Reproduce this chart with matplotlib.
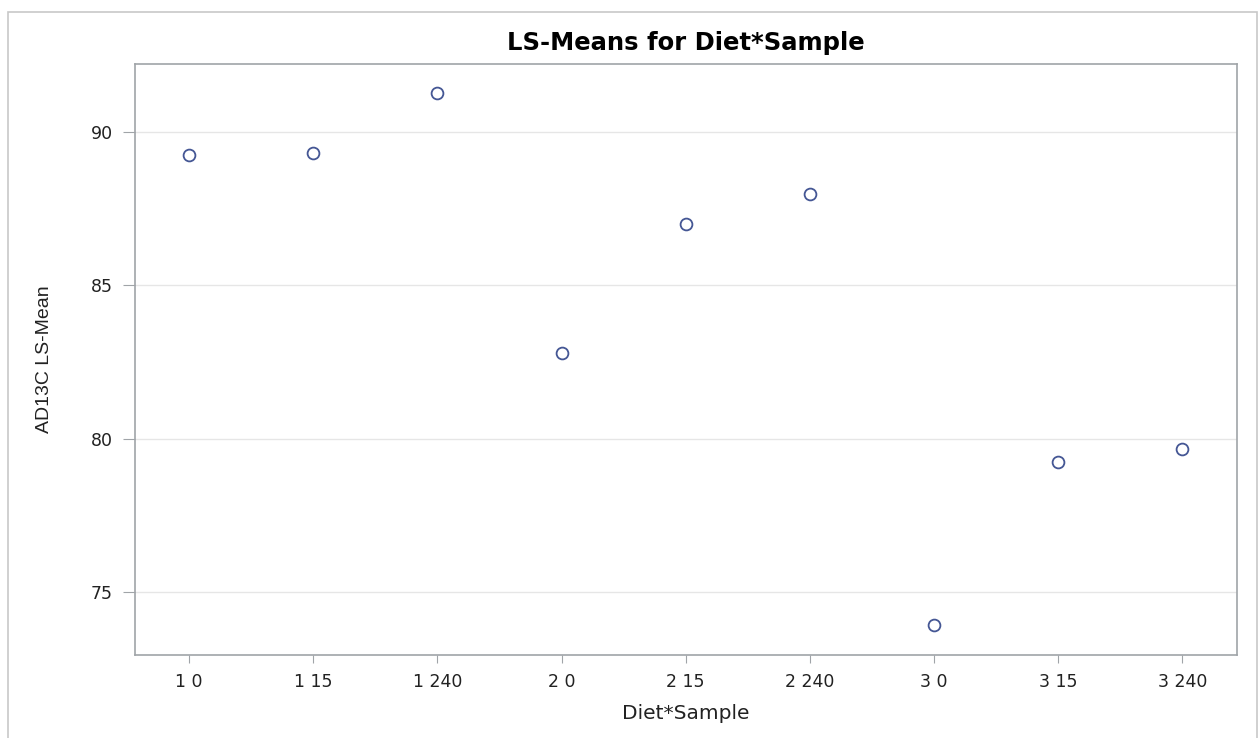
import matplotlib
matplotlib.use("Agg")
import matplotlib.pyplot as plt
from matplotlib.patches import Rectangle
from matplotlib import font_manager

categories = ["1 0", "1 15", "1 240", "2 0", "2 15", "2 240", "3 0", "3 15", "3 240"]
ls_means = [89.24, 89.30, 91.26, 82.79, 86.99, 87.97, 73.92, 79.24, 79.66]
y_ticks = [75, 80, 85, 90]

plt.rcParams['font.family'] = ['DejaVu Sans']

names = {f.name for f in font_manager.fontManager.ttflist}
narrow = 'Liberation Sans Narrow' in names

fig = plt.figure(figsize=(12.58, 7.38), dpi=100)
W, H = 1258, 738
ax = fig.add_axes([135 / W, 1 - 655 / H, (1237 - 135) / W, (655 - 64) / H])

# outer frame
fig.add_artist(Rectangle((8 / W, -0.05), (1257 - 8) / W, 1 - 12 / H + 0.05,
                         transform=fig.transFigure, fill=False,
                         edgecolor="#c8c8c8", linewidth=1.2))

x = list(range(len(categories)))
ax.plot(x, ls_means, linestyle="none", marker="o", markersize=8.5,
        markerfacecolor="none", markeredgecolor="#445694", markeredgewidth=1.3,
        zorder=3)

ax.set_xlim(-0.435, 8.44)
ax.set_ylim(72.95, 92.2)
ax.set_xticks(x)
ax.set_xticklabels(categories)
ax.set_yticks(y_ticks)
ax.grid(axis="y", color="#e6e6e6", linewidth=1)
ax.set_axisbelow(True)

for s in ax.spines.values():
    s.set_color("#a0a4a8")
    s.set_linewidth(1.2)
ax.tick_params(axis="both", direction="out", color="#a0a4a8",
               labelsize=12.5, labelcolor="#222222")
ax.tick_params(axis="x", length=6, pad=7)
ax.tick_params(axis="y", length=8.5, pad=7.5)

ax.set_title("LS-Means for Diet*Sample", fontsize=17.5, fontweight="bold", pad=10)
ax.set_xlabel("Diet*Sample", fontsize=14.5, color="#222222", labelpad=9)
if narrow:
    ax.set_ylabel("AD13C LS-Mean", fontsize=17, color="#222222", labelpad=26,
                  family=['Liberation Sans Narrow', 'DejaVu Sans'])
else:
    ax.set_ylabel("AD13C LS-Mean", fontsize=14, color="#222222", labelpad=27,
                  family=['Liberation Sans', 'DejaVu Sans'])

fig.savefig("out.png", dpi=100)
